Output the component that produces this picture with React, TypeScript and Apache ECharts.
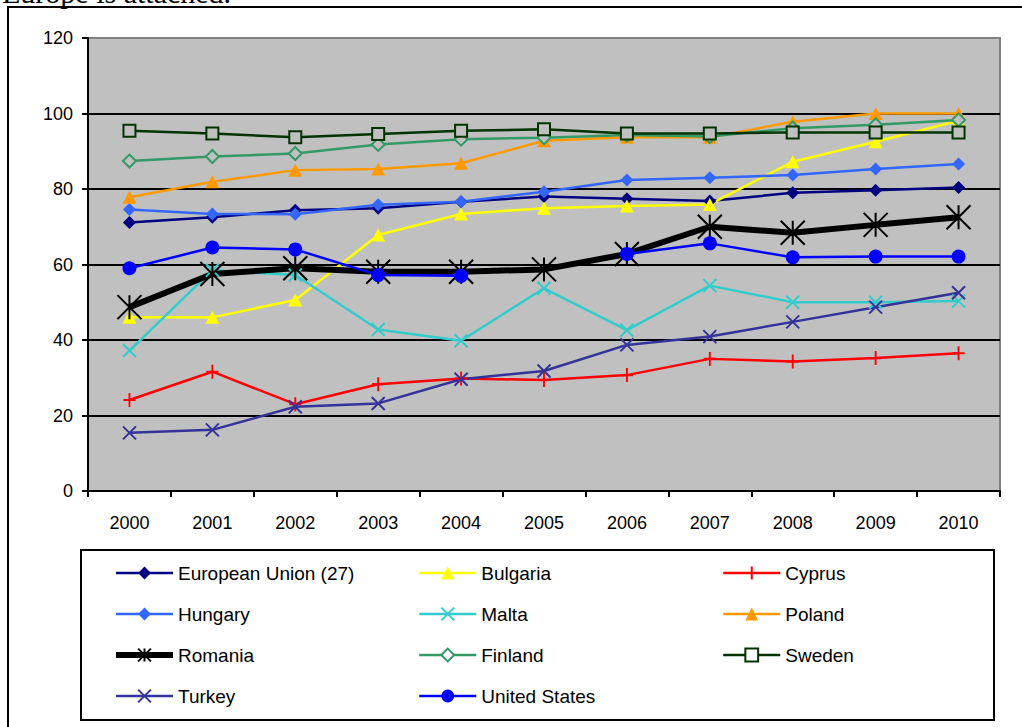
import React, { useEffect, useRef } from 'react';
import * as echarts from 'echarts';

const years = ['2000', '2001', '2002', '2003', '2004', '2005', '2006', '2007', '2008', '2009', '2010'];
const yTicks = { min: 0, max: 120, step: 20 };

const euValues = [71.1, 72.5, 74.4, 74.9, 76.6, 78.0, 77.4, 76.8, 79.0, 79.7, 80.4];
const bulgariaValues = [46.0, 46.0, 50.6, 67.8, 73.4, 74.9, 75.5, 75.9, 87.2, 92.5, 98.1];
const cyprusValues = [24.1, 31.6, 23.0, 28.3, 29.8, 29.4, 30.7, 35.0, 34.3, 35.2, 36.5];
const hungaryValues = [74.6, 73.4, 73.3, 75.8, 76.6, 79.3, 82.4, 83.0, 83.7, 85.3, 86.6];
const maltaValues = [37.2, 58.5, 57.2, 42.8, 39.8, 53.7, 42.6, 54.4, 50.0, 50.0, 50.3];
const polandValues = [77.8, 81.9, 85.0, 85.3, 86.8, 92.8, 93.7, 93.7, 97.8, 100.0, 100.0];
const romaniaValues = [48.7, 57.5, 59.0, 58.1, 58.1, 58.7, 62.8, 70.0, 68.4, 70.5, 72.5];
const finlandValues = [87.4, 88.6, 89.4, 91.8, 93.2, 93.6, 94.3, 93.9, 96.1, 97.0, 98.3];
const swedenValues = [95.4, 94.7, 93.7, 94.6, 95.4, 95.8, 94.7, 94.7, 95.0, 95.0, 95.0];
const turkeyValues = [15.4, 16.2, 22.3, 23.2, 29.6, 31.8, 38.7, 40.9, 44.8, 48.7, 52.5];
const usValues = [59.0, 64.5, 64.0, 57.2, 57.0, null, 62.8, 65.6, 61.9, 62.1, 62.1];

const legendCol1 = ['European Union (27)', 'Hungary', 'Romania', 'Turkey'];
const legendCol2 = ['Bulgaria', 'Malta', 'Finland', 'United States'];
const legendCol3 = ['Cyprus', 'Poland', 'Sweden'];
const hollowNames = ['Finland', 'Sweden'];

const PLUS = 'path://M0,6L12,6M6,0L6,12';
const CROSS = 'path://M0,0L12,12M12,0L0,12';
const STAR = 'path://M0,0L10,10M10,0L0,10M5,0L5,10';

const FONT = '"Liberation Sans", Arial, sans-serif';
const PLOT_BG = '#C0C0C0';
const LINE_W = 2.5;

type Kind = 'filled' | 'stroke' | 'hollow';

function line(
  name: string,
  data: (number | null)[],
  color: string,
  symbol: string,
  symbolSize: number | number[],
  kind: Kind,
  width = LINE_W
) {
  let itemStyle: any;
  if (kind === 'filled') itemStyle = { color, borderWidth: 0 };
  else if (kind === 'stroke') itemStyle = { color, borderColor: color, borderWidth: 2 };
  else itemStyle = { color: PLOT_BG, borderColor: color, borderWidth: 2 };
  return {
    type: 'line',
    name,
    data,
    symbol,
    symbolSize,
    showSymbol: true,
    showAllSymbol: true,
    connectNulls: false,
    lineStyle: { color, width },
    itemStyle,
    emphasis: { disabled: true },
  };
}

function legendData(names: string[]) {
  return names.map((n) => {
    const item: any = { name: n };
    if (hollowNames.includes(n)) item.itemStyle = { color: '#ffffff' };
    if (n === 'Romania') item.lineStyle = { width: 6 };
    else item.lineStyle = { width: LINE_W };
    return item;
  });
}

function legendCol(names: string[], left: number) {
  return {
    orient: 'vertical',
    left,
    top: 563,
    padding: 0,
    itemWidth: 57,
    itemHeight: 16,
    itemGap: 21,
    data: legendData(names),
    textStyle: { color: '#000', fontSize: 19, fontFamily: FONT, lineHeight: 20 },
  };
}

export default function App() {
  const ref = useRef<HTMLDivElement>(null);
  useEffect(() => {
    if (!ref.current) return;
    const chart = echarts.init(ref.current, null, { renderer: 'svg' });
    chart.setOption({
      animation: false,
      backgroundColor: '#ffffff',
      grid: {
        left: 88,
        right: 22,
        top: 38,
        bottom: 236,
        show: true,
        backgroundColor: PLOT_BG,
        borderColor: '#808080',
        borderWidth: 2,
        containLabel: false,
        outerBoundsMode: 'none',
      },
      xAxis: {
        type: 'category',
        data: years,
        boundaryGap: true,
        axisLine: { lineStyle: { color: '#000', width: 2 } },
        axisTick: { show: true, alignWithLabel: false, interval: 0, length: 6, lineStyle: { color: '#000', width: 2 } },
        axisLabel: { interval: 0, color: '#000', fontSize: 18, fontFamily: FONT, margin: 23 },
        splitLine: { show: false },
      },
      yAxis: {
        type: 'value',
        min: yTicks.min,
        max: yTicks.max,
        interval: yTicks.step,
        axisLine: { show: true, lineStyle: { color: '#000', width: 2 } },
        axisTick: { show: true, length: 6, lineStyle: { color: '#000', width: 2 } },
        axisLabel: { color: '#000', fontSize: 18, fontFamily: FONT, margin: 15 },
        splitLine: { show: true, showMinLine: false, showMaxLine: false, lineStyle: { color: '#000', width: 2 } },
      },
      legend: [legendCol(legendCol1, 113), legendCol(legendCol2, 418), legendCol(legendCol3, 722)],
      graphic: [
        {
          type: 'text',
          x: 2,
          y: 7,
          style: { text: 'Europe is attached.', font: '30px "Liberation Serif", "Times New Roman", serif', fill: '#000', verticalAlign: 'bottom' },
        },
        {
          type: 'rect',
          shape: { x: 8, y: 7, width: 1040, height: 760 },
          style: { fill: 'none', stroke: '#000', lineWidth: 2 },
        },
        {
          type: 'rect',
          shape: { x: 81, y: 550, width: 913, height: 170 },
          style: { fill: 'none', stroke: '#000', lineWidth: 2 },
        },
      ],
      series: [
        line('European Union (27)', euValues, '#000080', 'diamond', 13, 'filled'),
        line('Bulgaria', bulgariaValues, '#FFFF00', 'triangle', [14, 13], 'filled'),
        line('Cyprus', cyprusValues, '#FF0000', PLUS, [12, 14], 'stroke'),
        line('Hungary', hungaryValues, '#3366FF', 'diamond', 13, 'filled'),
        line('Malta', maltaValues, '#33CCCC', CROSS, 13, 'stroke'),
        line('Poland', polandValues, '#FF9900', 'triangle', [14, 13], 'filled'),
        line('Romania', romaniaValues, '#000000', STAR, 24, 'stroke', 6),
        line('Finland', finlandValues, '#339966', 'diamond', 13, 'hollow'),
        line('Sweden', swedenValues, '#003300', 'rect', 12, 'hollow'),
        line('Turkey', turkeyValues, '#333399', CROSS, 13, 'stroke'),
        line('United States', usValues, '#0000FF', 'circle', 14, 'filled'),
      ],
    });
    return () => chart.dispose();
  }, []);
  return <div ref={ref} style={{ position: 'absolute', left: 0, top: 0, width: 1022, height: 727 }} />;
}
